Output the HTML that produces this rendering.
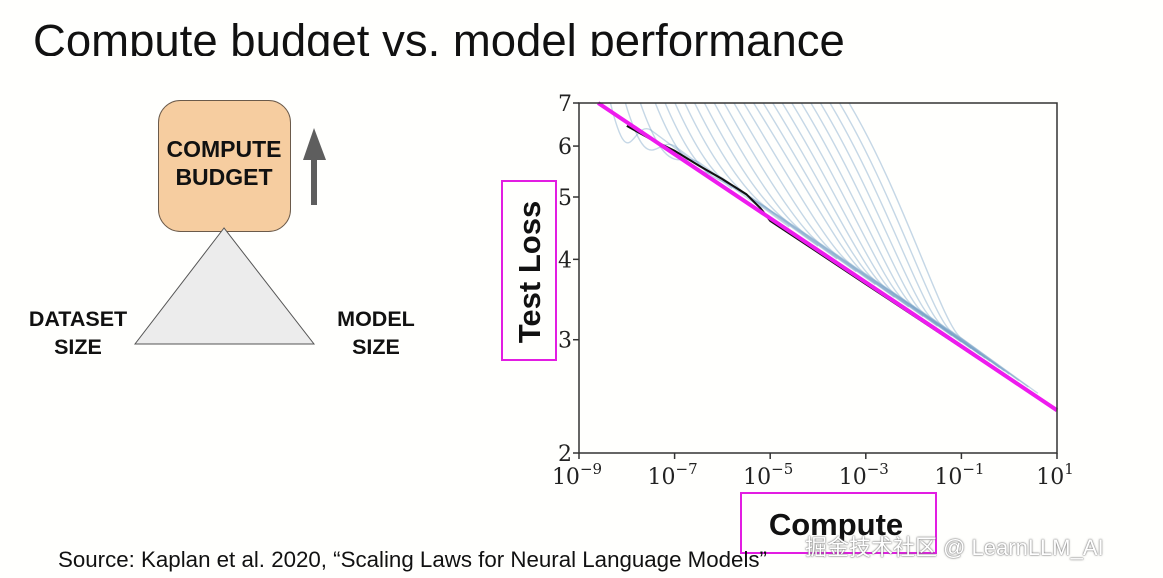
<!DOCTYPE html>
<html><head><meta charset="utf-8">
<style>
html,body{margin:0;padding:0;background:#fffffd;}
body{width:1163px;height:578px;position:relative;overflow:hidden;font-family:"Liberation Sans","Noto Sans CJK SC",sans-serif;}
.abs{position:absolute;}
.title{left:33px;top:12px;font-size:45.5px;color:#111;white-space:nowrap;height:44px;overflow:hidden;line-height:58px;}
.lbl{font-weight:bold;font-size:21.5px;color:#111;text-align:center;line-height:28px;}
.src{left:58px;top:547px;font-size:22.3px;color:#111;white-space:nowrap;}
.wm{left:805px;top:530px;font-size:22px;color:#fff;text-shadow:0 0 2px #777,0 0 1px #555;white-space:nowrap;}
</style></head>
<body>
<div class="abs title">Compute budget vs. model performance</div>
<svg class="abs" style="left:0;top:0" width="460" height="400">
  <rect x="158.5" y="100.5" width="132" height="131" rx="22" fill="#f6cda0" stroke="#6b5a4a"/>
  <text x="224" y="157" font-size="23" font-weight="bold" text-anchor="middle" fill="#111" font-family="Liberation Sans"><tspan x="224">COMPUTE</tspan><tspan x="224" dy="28">BUDGET</tspan></text>
  <polygon points="224,228 135,344 314,344" fill="#ececec" stroke="#555"/>
  <g>
    <rect x="311" y="155" width="6" height="50" fill="#5e5e5e"/>
    <polygon points="303,160 314,128 326,160" fill="#5e5e5e"/>
  </g>
</svg>
<div class="abs lbl" style="left:22px;top:305px;width:112px">DATASET<br>SIZE</div>
<div class="abs lbl" style="left:320px;top:305px;width:112px">MODEL<br>SIZE</div>

<svg class="abs" style="left:0;top:0" width="1163" height="578" id="chart"></svg>
<div class="abs src">Source: Kaplan et al. 2020, “Scaling Laws for Neural Language Models”</div>
<div class="abs wm">掘金技术社区 @ LearnLLM_AI</div>

<script>
const xTicks=[-9,-7,-5,-3,-1,1];
const yTicks=[2,3,4,5,6,7];
const frontierX=[-8.6,1];
const frontierY=[7,2.33];
const blackX=[-8.0,-7.5,-7.0,-6.5,-6.0,-5.5,-5.2,-5.0,-4.0,-3.0,-2.0,-1.0,-0.6];
const blackY=[6.45,6.15,5.9,5.6,5.33,5.05,4.8,4.59,4.10,3.66,3.27,2.92,2.79];
const curveStartX=[-8.4,-8.1,-7.8,-7.5,-7.3,-7.1,-6.9,-6.7,-6.5,-6.3,-6.1,-5.9,-5.7,-5.5,-5.3,-5.1,-4.9,-4.7,-4.5,-4.3,-4.1,-3.9,-3.7,-3.5];
const curveJoinX=[-7.5,-7.0,-6.5,-6.0,-5.7,-5.4,-5.1,-4.8,-4.5,-4.2,-3.9,-3.6,-3.3,-3.0,-2.8,-2.6,-2.4,-2.2,-2.0,-1.8,-1.6,-1.4,-1.2,-1.0];
const curveEndX=[-6.3,-5.8,-5.2,-4.6,-4.0,-3.6,-3.2,-2.8,-2.4,-2.1,-1.8,-1.5,-1.2,-1.0,-0.8,-0.6,-0.5,-0.4,-0.2,-0.1,0.0,0.2,0.4,0.6];

const svg=document.getElementById('chart');
const NS='http://www.w3.org/2000/svg';
const X0=579,X1=1057,Y0=453,Y1=103;
const sx=v=>X0+(v-(-9))/10*(X1-X0);
const sy=v=>Y0-Math.log(v/2)/Math.log(7/2)*(Y0-Y1);
const fy=x=>frontierY[0]*Math.pow(frontierY[1]/frontierY[0],(x-frontierX[0])/(frontierX[1]-frontierX[0]));
function el(t,a){const e=document.createElementNS(NS,t);for(const k in a)e.setAttribute(k,a[k]);return e;}

const clip=el('clipPath',{id:'pc'});clip.appendChild(el('rect',{x:X0,y:Y1,width:X1-X0,height:Y0-Y1}));svg.appendChild(clip);
const g=el('g',{'clip-path':'url(#pc)'});svg.appendChild(g);

curveStartX.forEach((s,i)=>{
  const j=curveJoinX[i],e=curveEndX[i];
  const jy=fy(j)*1.03, ey=fy(e)*1.015;
  const d=`M${sx(s)},${sy(7.3)} C${sx(s+(j-s)*0.5)},${sy(5.2)} ${sx(j-0.4)},${sy(jy*1.04)} ${sx(j)},${sy(jy)} L${sx(e)},${sy(ey)}`;
  const p=el('path',{d:d,fill:'none',stroke:'#6f9cc4','stroke-width':1.4,'stroke-opacity':0.4});
  
  
  g.appendChild(p);
});
let bd='';blackX.forEach((x,i)=>{bd+=(i?'L':'M')+sx(x)+','+sy(blackY[i]);});
const bl=el('path',{d:bd,fill:'none',stroke:'#111','stroke-width':2});


g.appendChild(bl);
const fl=el('line',{x1:sx(frontierX[0]),y1:sy(frontierY[0]),x2:sx(frontierX[1]),y2:sy(frontierY[1]),stroke:'#ee1bee','stroke-width':4});


svg.appendChild(fl);

const frame=el('rect',{x:X0,y:Y1,width:X1-X0,height:Y0-Y1,fill:'none',stroke:'#333','stroke-width':1.5});


svg.appendChild(frame);

xTicks.forEach(t=>{
  svg.appendChild(el('line',{x1:sx(t),x2:sx(t),y1:Y0,y2:Y0+6,stroke:'#333','stroke-width':1.5}));
  const tx=el('text',{x:sx(t)-2,y:484,'text-anchor':'middle','font-size':22,'font-family':'DejaVu Serif, Liberation Serif, serif',fill:'#222'});
  
  
  tx.innerHTML='10<tspan dy="-10" font-size="15">'+(t<0?'−'+(-t):t)+'</tspan>';
  svg.appendChild(tx);
});
yTicks.forEach(t=>{
  svg.appendChild(el('line',{x1:X0-6,x2:X0,y1:sy(t),y2:sy(t),stroke:'#333','stroke-width':1.5}));
  const tx=el('text',{x:X0-7,y:sy(t)+8,'text-anchor':'end','font-size':22,'font-family':'DejaVu Serif, Liberation Serif, serif',fill:'#222'});
  
  
  tx.textContent=t;
  svg.appendChild(tx);
});
const yb=el('rect',{x:502,y:181,width:54,height:179,fill:'none',stroke:'#e21de2','stroke-width':2});


svg.appendChild(yb);
const yt=el('text',{x:0,y:0,transform:'translate(540,272) rotate(-90)','text-anchor':'middle','font-size':31,'font-weight':'bold','font-family':'Liberation Sans',fill:'#111'});


yt.textContent='Test Loss';svg.appendChild(yt);
const xb=el('rect',{x:741,y:493,width:195,height:60,fill:'none',stroke:'#e21de2','stroke-width':2});


svg.appendChild(xb);
const xt=el('text',{x:836,y:535,'text-anchor':'middle','font-size':31,'font-weight':'bold','font-family':'Liberation Sans',fill:'#111'});


xt.textContent='Compute';svg.appendChild(xt);
</script>
</body></html>
